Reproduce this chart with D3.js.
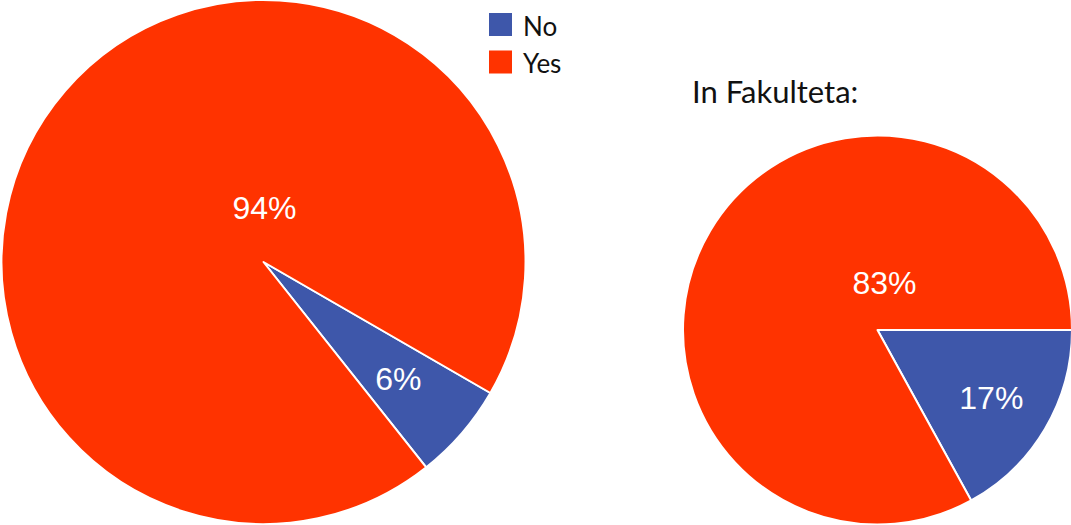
<!DOCTYPE html>
<html>
<head>
<meta charset="UTF-8" />
<style>
  body { margin: 0; background: #fff; }
  svg { display: block; }
  .pct { font-family: "Liberation Sans", Arial, sans-serif; font-size: 32px; fill: #fff; }
  .legend text, .title { font-family: Lato, "Open Sans", sans-serif; fill: #111; }
</style>
</head>
<body>
<svg id="chart" width="1071" height="525"></svg>
<script src="https://d3js.org/d3.v7.min.js"></script>
<script>
  // data
  const categories = ["No", "Yes"];
  const overallValues = [6, 94];
  const fakultetaValues = [17, 83];
  const sliceColors = ["#3e57aa", "#ff3300"];
  const fakultetaTitle = "In Fakulteta:";

  const deg = Math.PI / 180;
  // layout for each pie
  const pies = [
    { values: overallValues, cx: 263.5, cy: 262, r: 262, start: 120, bigK: 0.207, bigAngle: 1 },
    { values: fakultetaValues, cx: 877.5, cy: 330, r: 194.5, start: 90, bigK: 0.245, bigAngle: 8.5 }
  ];

  const svg = d3.select("#chart");
  const color = d3.scaleOrdinal().domain(categories).range(sliceColors);

  pies.forEach(p => {
    const data = categories.map((c, i) => ({ cat: c, value: p.values[i] }));
    const total = d3.sum(data, d => d.value);
    const pie = d3.pie().sort(null).value(d => d.value)
      .startAngle(p.start * deg).endAngle(p.start * deg + 2 * Math.PI);
    const arcs = pie(data);
    const arc = d3.arc().innerRadius(0).outerRadius(p.r);
    const labelArc = d3.arc().innerRadius(p.r * 0.68).outerRadius(p.r * 0.68);

    const g = svg.append("g").attr("transform", `translate(${p.cx},${p.cy})`);
    g.selectAll("path").data(arcs).enter().append("path")
      .attr("d", arc)
      .attr("fill", d => color(d.data.cat))
      .attr("stroke", "#fff")
      .attr("stroke-width", 2)
      .attr("stroke-linejoin", "round");

    g.selectAll("text").data(arcs).enter().append("text")
      .attr("class", "pct")
      .attr("text-anchor", "middle")
      .attr("dy", "0.36em")
      .attr("transform", d => {
        if (d.data.value / total > 0.5) {
          const a = p.bigAngle * deg, k = p.r * p.bigK;
          return `translate(${Math.sin(a) * k},${-Math.cos(a) * k})`;
        }
        return `translate(${labelArc.centroid(d)})`;
      })
      .text(d => Math.round(d.data.value / total * 100) + "%");
  });

  // legend
  const legend = svg.append("g").attr("class", "legend").attr("transform", "translate(489,13)");
  const item = legend.selectAll("g").data(categories).enter().append("g")
    .attr("transform", (d, i) => `translate(0,${i * 37.5})`);
  item.append("rect").attr("width", 23).attr("height", 23).attr("fill", d => color(d));
  item.append("text").attr("x", 34).attr("y", 22.5).attr("font-size", 26).text(d => d);

  svg.append("text").attr("class", "title")
    .attr("x", 692).attr("y", 103).attr("font-size", 31)
    .text(fakultetaTitle);
</script>
</body>
</html>
